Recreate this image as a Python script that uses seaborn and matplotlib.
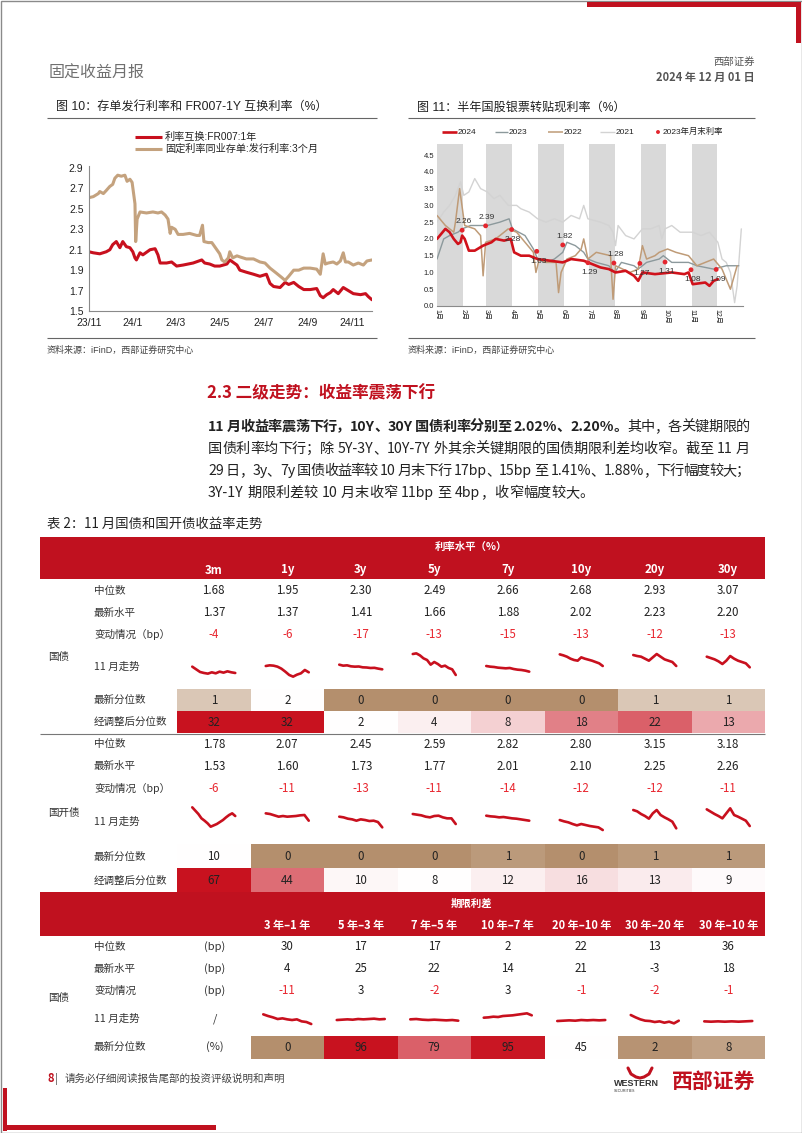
import re
import numpy as np
import pandas as pd
import matplotlib
matplotlib.use("Agg")
import matplotlib.pyplot as plt
from matplotlib.patches import Rectangle
from matplotlib.colors import LinearSegmentedColormap
import seaborn as sns

# ======================= DATA =======================
# Fig 10: days since 2023-11-01
fr_days = [0, 6, 15, 24, 29, 33, 38, 43, 47, 52, 57, 61, 64, 66, 71, 75, 85, 92, 96, 99,
           108, 115, 122, 131, 145, 157, 161, 168, 175, 182, 192, 196, 206, 210, 219, 229, 238, 247, 252, 257,
           266, 273, 278, 285, 292, 299, 308, 317, 322, 326, 331, 336, 340, 347, 354, 361, 368, 378, 385, 389, 394]
fr_vals = [2.08, 2.07, 2.06, 2.08, 2.10, 2.15, 2.18, 2.12, 2.18, 2.13, 2.12, 2.08, 2.02, 2.00, 2.07, 2.05, 2.10, 2.11, 2.05, 1.97,
           1.97, 1.98, 1.94, 1.95, 1.97, 2.00, 1.97, 1.96, 1.94, 1.94, 1.96, 2.00, 1.95, 1.90, 1.88, 1.86, 1.84, 1.86, 1.77, 1.74,
           1.73, 1.78, 1.76, 1.78, 1.74, 1.71, 1.71, 1.72, 1.65, 1.63, 1.66, 1.68, 1.71, 1.67, 1.73, 1.70, 1.67, 1.66, 1.67, 1.64, 1.61]
cd_days = [0, 6, 13, 15, 20, 24, 29, 33, 36, 40, 45, 50, 53, 57, 60, 64, 65, 67, 71, 80,
           89, 96, 101, 106, 110, 113, 115, 120, 124, 131, 140, 150, 154, 158, 160, 166, 171, 173, 178, 182,
           185, 189, 194, 196, 200, 206, 210, 219, 229, 238, 245, 252, 261, 268, 273, 278, 285, 292, 299, 308,
           317, 322, 326, 329, 333, 340, 345, 350, 354, 357, 361, 368, 375, 382, 387, 394]
cd_vals = [2.61, 2.62, 2.65, 2.67, 2.65, 2.68, 2.72, 2.74, 2.80, 2.83, 2.82, 2.83, 2.77, 2.79, 2.76, 2.55, 2.18, 2.40, 2.47, 2.46,
           2.47, 2.46, 2.47, 2.44, 2.40, 2.26, 2.32, 2.30, 2.25, 2.25, 2.26, 2.24, 2.24, 2.34, 2.18, 2.17, 2.17, 2.15, 2.10, 2.06,
           2.00, 1.98, 2.02, 2.08, 2.02, 2.04, 2.03, 2.01, 2.01, 1.98, 1.97, 1.92, 1.87, 1.83, 1.80, 1.84, 1.90, 1.90, 1.92, 1.92,
           1.91, 1.86, 2.06, 1.96, 1.97, 1.98, 1.96, 1.99, 2.07, 1.98, 1.98, 1.95, 1.97, 1.95, 1.99, 2.00]
fig10_tick_dates = ['2023-11-01', '2024-01-01', '2024-03-01', '2024-05-01', '2024-07-01', '2024-09-01', '2024-11-01']
fig10_tick_labels = ['23/11', '24/1', '24/3', '24/5', '24/7', '24/9', '24/11']

# Fig 11: day of year
d2021 = [0, 8, 15, 22, 28, 32, 38, 45, 52, 60, 68, 75, 85, 95, 100, 110, 120, 130, 140, 150,
         160, 170, 175, 180, 195, 205, 210, 213, 216, 225, 235, 245, 255, 265, 268, 272, 280, 290, 305, 315,
         325, 335, 340, 345, 350, 355, 358, 363]
v2021 = [2.5, 2.8, 3.0, 3.3, 3.7, 3.3, 3.4, 3.8, 3.5, 3.4, 3.2, 3.3, 3.0, 3.0, 2.9, 2.8, 2.6, 2.5, 2.6, 2.5,
         2.7, 2.6, 3.0, 2.6, 2.5, 2.4, 2.2, 1.8, 2.4, 2.1, 2.0, 2.3, 2.3, 2.4, 2.0, 2.3, 2.4, 2.2, 2.2, 2.1,
         2.2, 1.9, 1.4, 1.3, 1.0, 0.1, 0.6, 2.3]
d2023 = [0, 4, 8, 15, 25, 30, 40, 50, 60, 75, 86, 90, 105, 115, 120, 130, 140, 150, 155, 165,
         175, 180, 190, 205, 212, 220, 235, 240, 250, 265, 270, 280, 300, 310, 330, 345, 360]
v2023 = [1.4, 1.7, 2.0, 2.1, 2.2, 2.3, 2.4, 2.4, 2.4, 2.5, 2.6, 2.3, 2.1, 1.7, 1.4, 1.3, 1.4, 1.6, 1.9, 1.8,
         1.6, 1.4, 1.3, 1.2, 1.0, 1.3, 1.2, 1.1, 1.3, 1.4, 1.5, 1.3, 1.3, 1.2, 1.1, 1.2, 1.2]
d2022 = [0, 10, 20, 22, 27, 33, 45, 52, 55, 58, 70, 85, 95, 105, 115, 118, 122, 130, 142, 145,
         148, 155, 165, 172, 175, 180, 190, 207, 210, 213, 230, 240, 245, 250, 260, 265, 275, 285, 300, 310,
         320, 330, 340, 350, 358]
v2022 = [2.7, 2.4, 2.2, 2.5, 3.5, 2.4, 2.3, 2.1, 0.9, 1.9, 2.0, 2.3, 2.2, 1.9, 1.6, 1.0, 1.4, 1.3, 1.3, 0.4,
         1.0, 1.4, 1.5, 1.7, 2.0, 1.4, 1.6, 1.5, 0.2, 1.2, 1.0, 1.1, 1.8, 1.4, 1.5, 1.6, 1.7, 1.6, 1.5, 1.2,
         1.3, 1.4, 1.1, 0.5, 1.2]
d2024 = [0, 5, 10, 15, 20, 25, 28, 30, 33, 38, 45, 55, 65, 70, 80, 88, 92, 100, 110, 120,
         135, 150, 160, 175, 185, 195, 205, 213, 225, 235, 240, 245, 260, 280, 295, 300, 305, 320, 325, 330, 335]
v2024 = [2.0, 2.15, 2.3, 2.2, 2.0, 1.85, 1.9, 2.1, 2.0, 1.65, 1.65, 1.8, 1.9, 2.0, 1.95, 2.0, 1.6, 1.5, 1.5, 1.4,
         1.35, 1.3, 1.4, 1.35, 1.25, 1.15, 1.1, 1.0, 1.05, 0.9, 0.75, 1.0, 0.95, 1.0, 0.95, 1.0, 0.65, 0.7, 0.6, 0.75, 0.8]
mend_days = [30, 58, 89, 119, 150, 180, 211, 242, 272, 303, 333]
mend_vals = [2.26, 2.39, 2.28, 1.63, 1.82, 1.29, 1.28, 1.27, 1.31, 1.08, 1.09]
month_days = [31, 28, 31, 30, 31, 30, 31, 31, 30, 31, 30, 31]
month_labels = ['1月', '2月', '3月', '4月', '5月', '6月', '7月', '8月', '9月', '10月', '11月', '12月']

# Table 2
tenors = ['3m', '1y', '3y', '5y', '7y', '10y', '20y', '30y']
gz_median = [1.68, 1.95, 2.30, 2.49, 2.66, 2.68, 2.93, 3.07]
gz_latest = [1.37, 1.37, 1.41, 1.66, 1.88, 2.02, 2.23, 2.20]
gz_change = [-4, -6, -17, -13, -15, -13, -12, -13]
gz_pct = [1, 2, 0, 0, 0, 0, 1, 1]
gz_adj = [32, 32, 2, 4, 8, 18, 22, 13]
gk_median = [1.78, 2.07, 2.45, 2.59, 2.82, 2.80, 3.15, 3.18]
gk_latest = [1.53, 1.60, 1.73, 1.77, 2.01, 2.10, 2.25, 2.26]
gk_change = [-6, -11, -13, -11, -14, -12, -12, -11]
gk_pct = [10, 0, 0, 0, 1, 0, 1, 1]
gk_adj = [67, 44, 10, 8, 12, 16, 13, 9]
spreads = ['3 年–1 年', '5 年–3 年', '7 年–5 年', '10 年–7 年', '20 年–10 年', '30 年–20 年', '30 年–10 年']
sp_median = [30, 17, 17, 2, 22, 13, 36]
sp_latest = [4, 25, 22, 14, 21, -3, 18]
sp_change = [-11, 3, -2, 3, -1, -2, -1]
sp_pct = [0, 96, 79, 95, 45, 2, 8]

# November trend sparklines (relative levels)
gz_spark = [
    [7, 5.4, 3.8, 3.2, 2.8, 3.6, 3, 4, 3.4, 4.2, 3.6, 3.2],
    [7.4, 7.8, 7.6, 7, 5.8, 4, 2, 1, 2.2, 3, 5, 3.6],
    [8.2, 7.6, 7.8, 7.2, 7.0, 7.1, 6.6, 6.5, 6.2, 6.3, 5.8, 5.4],
    [14.6, 15, 13.8, 12, 11, 8.2, 9.8, 8.6, 7, 7.6, 6.2, 5.4, 2],
    [7.4, 7, 6.8, 6.4, 6.2, 6, 6.2, 5.6, 5.2, 5, 4.6, 4],
    [14.4, 13.8, 13, 11.8, 11, 10.6, 12.6, 11.8, 11.2, 10.6, 9.8, 9, 7.4],
    [14, 13.4, 13, 11.8, 10.6, 12.6, 14.6, 13, 11.4, 10.6, 9.8, 7.4],
    [13, 12.2, 11.4, 10.2, 8.6, 10.6, 13.4, 11.8, 10.6, 9.8, 9, 6.6],
]
gk_spark = [
    [14.6, 12.6, 10.6, 8, 6.6, 5, 3, 3.8, 4.6, 5.8, 7, 8.6, 10, 11, 9.4],
    [11, 10.6, 9.8, 9, 9.4, 9, 9.2, 9.4, 9.8, 10, 6.6],
    [9, 8.6, 7.8, 7.4, 6.6, 7.4, 7, 6.4, 6.6, 5.8, 2.6],
    [10.6, 10.2, 9.8, 9, 8.6, 9.4, 9.6, 8.6, 8, 8, 4.6],
    [9.6, 9.2, 9, 8.6, 8.8, 8.4, 8, 7.8, 7.4, 7, 6.6],
    [7, 6.2, 5.6, 4.6, 3.8, 4.6, 4, 3.4, 3, 2.6, 1],
    [13, 12.2, 10.6, 9.4, 7.8, 11, 13, 10, 8.6, 7.4, 6, 2],
    [13.4, 12, 10.6, 9.4, 8, 11, 14, 10, 9, 7.8, 6.6, 3.4],
]
sp_spark = [
    [7.4, 6.4, 5.6, 4.6, 5, 4.4, 4, 4.4, 3.2, 2.8, 1.6],
    [4, 4.2, 4.4, 4.2, 4.6, 4.4, 4.6, 4.8, 4.4, 4.6],
    [4.4, 4.6, 4.2, 4, 4.2, 4, 3.8, 4, 3.6],
    [5.4, 5.6, 6, 5.8, 6.4, 6.6, 6.8, 7.2, 7.6, 8, 6.8],
    [3.4, 3.6, 3.8, 3.6, 4, 3.8, 4, 3.8, 4],
    [7, 5.6, 4.4, 3.6, 3.4, 2.8, 3.2, 2.4, 3, 2, 3.6],
    [3.2, 3, 3.2, 3, 3.2, 3, 3.2, 3.4],
]

# ======================= STYLE =======================
sns.set_style("white")
SANS = ['Liberation Sans', 'Noto Sans CJK SC', 'DejaVu Sans']
NARROW = ['Liberation Sans Narrow', 'Noto Sans CJK SC', 'DejaVu Sans']
plt.rcParams['font.family'] = SANS
plt.rcParams['axes.unicode_minus'] = False

RED = '#C8101E'
HDR = '#C0111F'
TAN = '#C4A27E'
NEG = '#E8262F'
TXT = '#222222'
W, H = 802, 1133

fig = plt.figure(figsize=(W / 100, H / 100), dpi=100)
page = fig.add_axes([0, 0, 1, 1])
page.set_xlim(0, W)
page.set_ylim(H, 0)
page.axis('off')
renderer = fig.canvas.get_renderer()


def ax_px(x0, y0, x1, y1):
    return fig.add_axes([x0 / W, 1 - y1 / H, (x1 - x0) / W, (y1 - y0) / H])


def T(x, y, s, size=8, color=TXT, ha='left', va='center', weight='normal', family=NARROW, **kw):
    return page.text(x, y, s, fontsize=size, color=color, ha=ha, va=va,
                     fontweight=weight, family=family, **kw)


def hline(x0, x1, y, color='#666666', lw=0.8):
    page.plot([x0, x1], [y, y], color=color, lw=lw, solid_capstyle='butt')


# ======================= PAGE FRAME =======================
page.add_patch(Rectangle((0.5, 0.5), W - 1, H - 1, fill=False, ec='#8a8a8a', lw=1))
page.add_patch(Rectangle((587, 2), 214, 5, color=HDR, lw=0))
page.add_patch(Rectangle((796, 2), 5, 41, color=HDR, lw=0))
page.add_patch(Rectangle((3, 1088), 4, 43, color=HDR, lw=0))
page.add_patch(Rectangle((3, 1125), 213, 5, color=HDR, lw=0))

T(49, 73, '固定收益月报', size=11.5, color='#707070', family=SANS)
T(755, 62, '西部证券', size=7.5, color='#555555', ha='right', family=SANS)
T(755, 77, '2024 年 12 月 01 日', size=8, color='#555555', ha='right', weight='bold')

# ======================= FIG 10 =======================
T(56, 107, '图 10：存单发行利率和 FR007-1Y 互换利率（%）', size=8.7, family=SANS)
hline(47, 377, 118)
hline(47, 377, 338)
T(47, 350, '资料来源：iFinD，西部证券研究中心', size=6.5, color='#444444', family=SANS)

base = pd.Timestamp('2023-11-01')
df_fr = pd.DataFrame({'date': base + pd.to_timedelta(fr_days, unit='D'), 'rate': fr_vals})
df_cd = pd.DataFrame({'date': base + pd.to_timedelta(cd_days, unit='D'), 'rate': cd_vals})

ax10 = ax_px(89, 166, 372, 311)
sns.lineplot(data=df_fr, x='date', y='rate', color=RED, lw=2.2, ax=ax10)
sns.lineplot(data=df_cd, x='date', y='rate', color=TAN, lw=2.2, ax=ax10)
ax10.set_xlim(df_fr['date'].min(), df_fr['date'].max())
ax10.set_ylim(1.5, 2.92)
yt = [1.5, 1.7, 1.9, 2.1, 2.3, 2.5, 2.7, 2.9]
ax10.set_yticks(yt)
ax10.set_yticklabels([f'{v:.1f}' for v in yt], fontsize=7.5, color=TXT)
ax10.set_xticks(pd.to_datetime(fig10_tick_dates))
ax10.set_xticklabels(fig10_tick_labels, fontsize=7.5, color=TXT)
ax10.set_xlabel('')
ax10.set_ylabel('')
for s in ['top', 'right']:
    ax10.spines[s].set_visible(False)
for s in ['left', 'bottom']:
    ax10.spines[s].set_color('#8a8a8a')
    ax10.spines[s].set_linewidth(0.8)
ax10.tick_params(axis='y', length=2, width=0.6, color='#8a8a8a', pad=2)
ax10.tick_params(axis='x', length=0, pad=5)

page.plot([135, 162], [137, 137], color=RED, lw=2.2, solid_capstyle='butt')
page.plot([135, 162], [149, 149], color=TAN, lw=2.2, solid_capstyle='butt')
T(165, 137, '利率互换:FR007:1年', size=7.3, family=SANS)
T(165, 149, '固定利率同业存单:发行利率:3个月', size=7.3, family=SANS)

# ======================= FIG 11 =======================
T(417, 108, '图 11：半年国股银票转贴现利率（%）', size=8.7, family=SANS)
hline(408, 755, 118)
hline(408, 755, 338)
T(408, 350, '资料来源：iFinD，西部证券研究中心', size=6.5, color='#444444', family=SANS)

ax11 = ax_px(437, 144, 743, 306)
mstarts = np.concatenate([[0], np.cumsum(month_days)])
for m in range(0, 12, 2):
    ax11.axvspan(mstarts[m], mstarts[m + 1], color='#D9D9D9', lw=0, zorder=0)
series11 = [(d2021, v2021, '#D3D3D3', 1.0), (d2023, v2023, '#8C999C', 1.0),
            (d2022, v2022, '#BF9B77', 1.1), (d2024, v2024, '#D0121B', 1.9)]
for dd, vv, col, lw in series11:
    sns.lineplot(x=dd, y=vv, color=col, lw=lw, ax=ax11)
sns.scatterplot(x=mend_days, y=mend_vals, color='#E3262E', s=12, edgecolor='none', ax=ax11, zorder=6)
label_above = [True, True, False, False, True, False, True, False, False, False, False]
for d, v, up in zip(mend_days, mend_vals, label_above):
    ax11.annotate(f'{v:.2f}', (d, v), xytext=(1, 6 if up else -7), textcoords='offset points',
                  ha='center', va='center', fontsize=6, color='#333333', zorder=7)
ax11.set_xlim(0, 365)
ax11.set_ylim(0, 4.83)
yt11 = [0.0, 0.5, 1.0, 1.5, 2.0, 2.5, 3.0, 3.5, 4.0, 4.5]
ax11.set_yticks(yt11)
ax11.set_yticklabels([f'{v:.1f}' for v in yt11], fontsize=5.5, color=TXT)
ax11.set_xticks(mstarts[:12])
ax11.set_xticklabels(month_labels, rotation=270, fontsize=5, color=TXT, family=SANS)
ax11.tick_params(axis='both', length=0, pad=2)
ax11.set_xlabel('')
ax11.set_ylabel('')
for s in ['top', 'right', 'left']:
    ax11.spines[s].set_visible(False)
ax11.spines['bottom'].set_color('#8a8a8a')
ax11.spines['bottom'].set_linewidth(0.8)

leg = [('2024', '#D0121B', 1.9, 442, 457), ('2023', '#8C999C', 1.0, 495, 508),
       ('2022', '#BF9B77', 1.1, 548, 563), ('2021', '#D3D3D3', 1.0, 600, 615)]
for lab, col, lw, xa, xb in leg:
    page.plot([xa, xb], [132, 132], color=col, lw=lw, solid_capstyle='butt')
    T(xb + 1, 132, lab, size=6, family=SANS)
page.scatter([658], [132], s=8, color='#E3262E', edgecolor='none')
T(663, 132, '2023年月末利率', size=6, family=SANS)

# ======================= SECTION TEXT =======================
T(207, 393, '2.3 二级走势：收益率震荡下行', size=12, color=HDR, weight='bold')

TOKEN = re.compile(r'[A-Za-z0-9.%\-]+|\s+|.')


def justified(parts, y, x0, x1, size, justify=True):
    items = []
    for s, wt in parts:
        for tok in TOKEN.findall(s):
            if tok.isspace():
                items.append((None, size * 100 / 72 * 0.25))
            else:
                t = T(0, y, tok, size=size, weight=wt)
                items.append((t, t.get_window_extent(renderer).width))
    natural = sum(w for _, w in items)
    gap = (x1 - x0 - natural) / (len(items) - 1) if justify else 0.0
    x = x0
    for t, w in items:
        if t is not None:
            t.set_x(x)
        x += w + gap


PS = 10.2
justified([('11 月收益率震荡下行，10Y、30Y 国债利率分别至 2.02%、2.20%。', 'bold'),
           ('其中，各关键期限的', 'normal')], 427, 208, 750, PS)
justified([('国债利率均下行；除 5Y-3Y、10Y-7Y 外其余关键期限的国债期限利差均收窄。截至 11 月', 'normal')],
          449, 208, 750, PS)
justified([('29 日，3y、7y 国债收益率较 10 月末下行 17bp、15bp 至 1.41%、1.88%，下行幅度较大；', 'normal')],
          471, 208, 750, PS)
justified([('3Y-1Y 期限利差较 10 月末收窄 11bp 至 4bp，收窄幅度较大。', 'normal')],
          493, 208, 750, PS, justify=False)

# ======================= TABLE 2 =======================
T(47, 524, '表 2：11 月国债和国开债收益率走势', size=9.6)
TX0, CW, TX1 = 177, 73.5, 765


def cx(i):
    return TX0 + CW * (i + 0.5)


CMAP = LinearSegmentedColormap.from_list('tw', [(0, '#B48F6D'), (0.5, '#FFFFFF'), (1, '#C8121F')])


def shade(vals, kind):
    v = np.asarray(vals, float)
    lo, hi = v.min(), v.max()
    if kind == 'low':
        return (v - lo) / (hi - lo) - 1
    if kind == 'high':
        return (v - lo) / (hi - lo)
    mid = np.median(v)
    return np.where(v <= mid, (v - mid) / (mid - lo), (v - mid) / (hi - mid))


def heat(rows, kinds, x0, y0, x1, y1):
    ax = ax_px(x0, y0, x1, y1)
    sh = np.vstack([shade(r, k) for r, k in zip(rows, kinds)])
    an = np.array(rows, dtype=int)
    sns.heatmap(sh, ax=ax, cmap=CMAP, vmin=-1, vmax=1, annot=an, fmt='d', cbar=False,
                xticklabels=False, yticklabels=False, linewidths=0,
                annot_kws=dict(fontsize=8.3, color=TXT, family=NARROW))
    ax.tick_params(length=0)


def spark(xc, y0, y1, vals, ylim, half):
    ax = ax_px(xc - half, y0, xc + half, y1)
    sns.lineplot(x=np.arange(len(vals)), y=vals, color=RED, lw=1.9, ax=ax)
    ax.lines[-1].set_clip_on(False)
    ax.set_xlim(0, len(vals) - 1)
    ax.set_ylim(*ylim)
    ax.axis('off')
    ax.patch.set_alpha(0)


LS = 7.6
# header band 1
page.add_patch(Rectangle((40, 537), TX1 - 40, 42, color=HDR, lw=0))
T((TX0 + TX1) / 2, 547, '利率水平（%）', size=7.5, color='white', ha='center', weight='bold')
for i, c in enumerate(tenors):
    T(cx(i), 570, c, size=8.3, color='white', ha='center', weight='bold')


def value_block(y_med, y_lat, y_chg, med, lat, chg, fmt, offset=0):
    for i, v in enumerate(med):
        T(cx(i + offset), y_med, fmt(v), size=8.3, ha='center')
    for i, v in enumerate(lat):
        T(cx(i + offset), y_lat, fmt(v), size=8.3, ha='center')
    for i, v in enumerate(chg):
        T(cx(i + offset), y_chg, f'{v}', size=8.3, ha='center', color=NEG if v < 0 else TXT)


# 国债 block
for lab, y in [('中位数', 591), ('最新水平', 613), ('变动情况（bp）', 634), ('11 月走势', 667),
               ('最新分位数', 700), ('经调整后分位数', 722)]:
    T(94, y, lab, size=LS, color='#333333')
T(48, 657, '国债', size=LS, color='#333333')
value_block(591, 613, 634, gz_median, gz_latest, gz_change, lambda v: f'{v:.2f}')
for i, vals in enumerate(gz_spark):
    spark(cx(i), 651.7, 678.3, vals, (0, 16), 21.5)
heat([gz_pct, gz_adj], ['low', 'high'], TX0, 689, TX1, 733)
hline(40, TX1, 733.5, color='#777777', lw=0.8)

# 国开债 block
for lab, y in [('中位数', 744), ('最新水平', 766), ('变动情况（bp）', 788), ('11 月走势', 822),
               ('最新分位数', 857), ('经调整后分位数', 881)]:
    T(94, y, lab, size=LS, color='#333333')
T(48, 813, '国开债', size=LS, color='#333333')
value_block(744, 766, 788, gk_median, gk_latest, gk_change, lambda v: f'{v:.2f}')
for i, vals in enumerate(gk_spark):
    spark(cx(i), 805, 831.7, vals, (0, 16), 21.5)
heat([gk_pct, gk_adj], ['low', 'high'], TX0, 844, TX1, 892)

# header band 2 (term spreads)
page.add_patch(Rectangle((40, 892), TX1 - 40, 44, color=HDR, lw=0))
T((TX0 + TX1) / 2, 904, '期限利差', size=7.5, color='white', ha='center', weight='bold')
for i, c in enumerate(spreads):
    T(cx(i + 1), 926, c, size=8, color='white', ha='center', weight='bold')

for lab, unit, y in [('中位数', '(bp)', 947), ('最新水平', '(bp)', 969), ('变动情况', '(bp)', 991),
                     ('11 月走势', '/', 1019), ('最新分位数', '(%)', 1047)]:
    T(94, y, lab, size=LS, color='#333333')
    T(215, y, unit, size=8, color='#333333', ha='center')
T(48, 998, '国债', size=LS, color='#333333')
value_block(947, 969, 991, sp_median, sp_latest, sp_change, lambda v: f'{v}', offset=1)
for i, vals in enumerate(sp_spark):
    spark(cx(i + 1), 1010, 1026.7, vals, (0, 10), 24)
heat([sp_pct], ['three'], TX0 + CW, 1036, TX1, 1059)

# ======================= FOOTER =======================
T(47, 1079, '8', size=8, color=HDR, weight='bold')
T(55, 1079, '|', size=8, color='#555555')
T(65, 1079, '请务必仔细阅读报告尾部的投资评级说明和声明', size=7.6, color='#444444', family=SANS)
T(614, 1083, 'WESTERN', size=6.5, color='#333333', weight='bold', family=SANS)
T(614, 1091, 'SECURITIES', size=2.6, color='#333333', family=SANS)
page.plot([628, 631, 636, 640, 644, 649, 652], [1068, 1074, 1077, 1078, 1077, 1074, 1068],
          color=HDR, lw=2.2, solid_capstyle='round')
T(755, 1082, '西部证券', size=15, color=HDR, ha='right', weight='bold', family=SANS)

fig.savefig('out.png', dpi=100)
